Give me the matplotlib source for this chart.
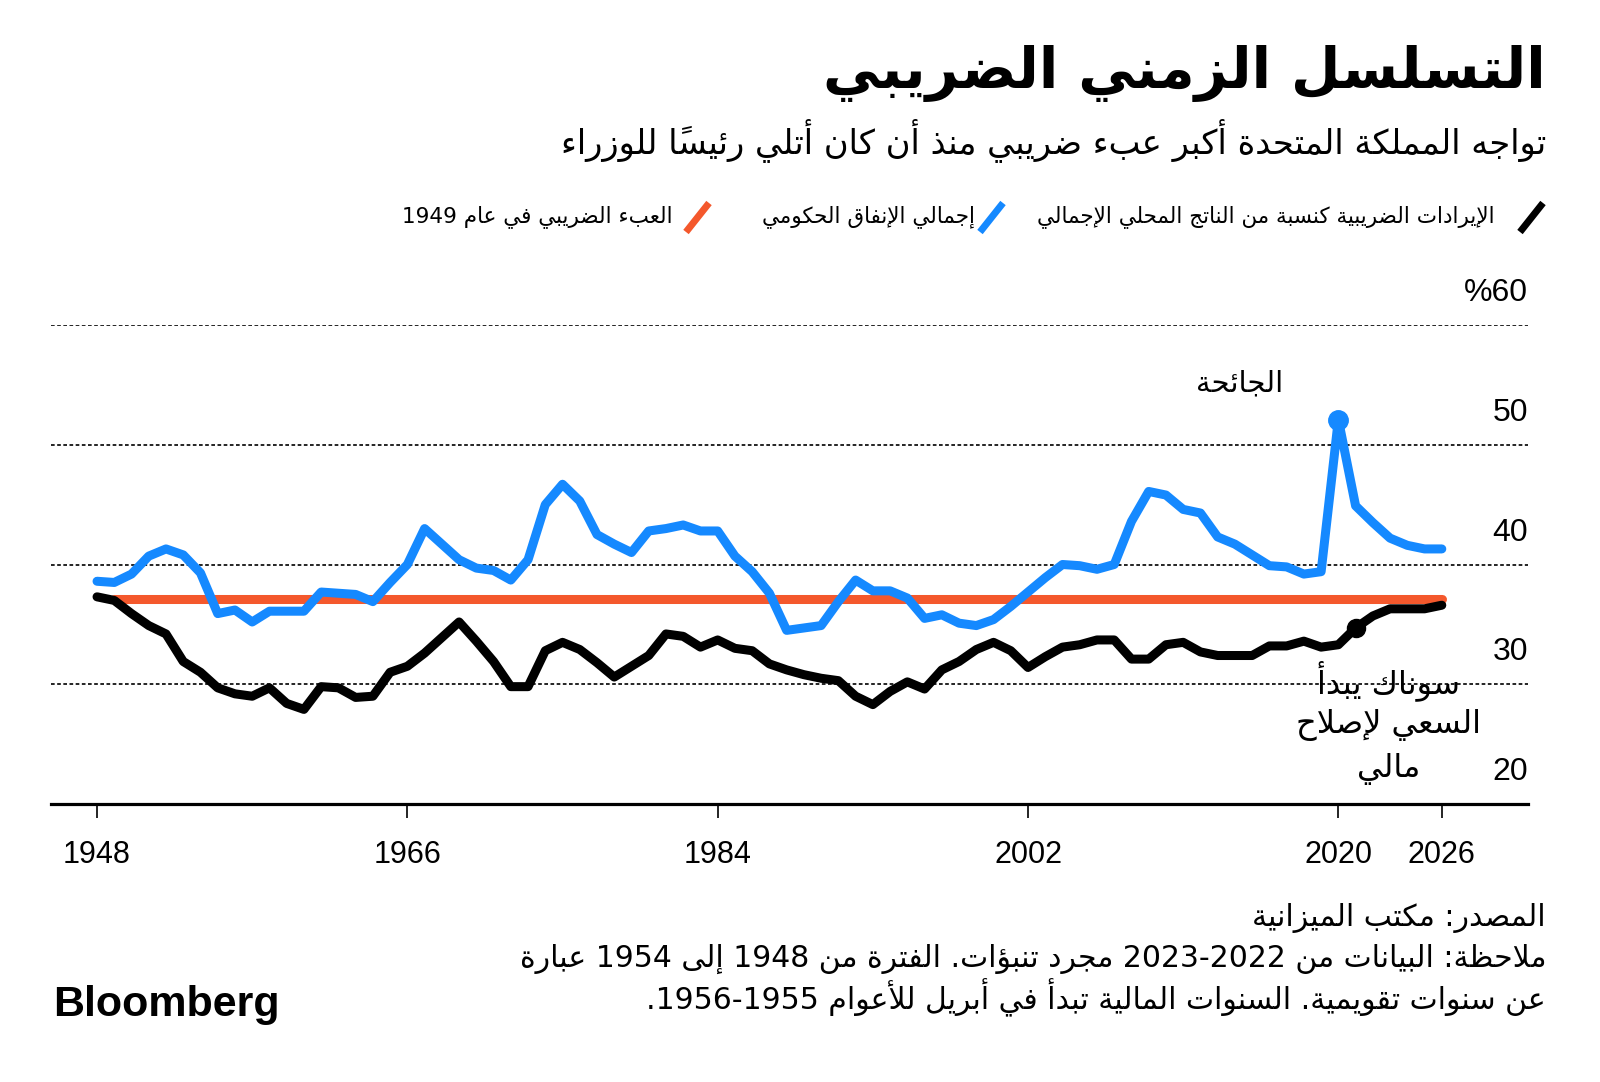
import matplotlib
matplotlib.use("Agg")
import matplotlib.pyplot as plt
from matplotlib.lines import Line2D

# UK tax receipts and total managed expenditure, % of GDP
years = list(range(1948, 2027))
tax_receipts = [
    37.3, 37.0, 35.9, 34.9, 34.2, 31.9, 31.0, 29.7, 29.2, 29.0,
    29.7, 28.4, 27.9, 29.8, 29.7, 28.9, 29.0, 31.0, 31.5, 32.6,
    33.9, 35.2, 33.6, 31.9, 29.8, 29.8, 32.8, 33.5, 32.9, 31.8,
    30.6, 31.5, 32.4, 34.2, 34.0, 33.1, 33.7, 33.0, 32.8, 31.7,
    31.2, 30.8, 30.5, 30.3, 29.0, 28.3, 29.4, 30.2, 29.6, 31.2,
    31.9, 32.9, 33.5, 32.8, 31.4, 32.3, 33.1, 33.3, 33.7, 33.7,
    32.1, 32.1, 33.3, 33.5, 32.7, 32.4, 32.4, 32.4, 33.2, 33.2,
    33.6, 33.1, 33.3, 34.7, 35.7, 36.3, 36.3, 36.3, 36.6,
]
spending = [
    38.6, 38.5, 39.2, 40.7, 41.3, 40.8, 39.3, 35.9, 36.2, 35.2,
    36.1, 36.1, 36.1, 37.7, 37.6, 37.5, 36.9, 38.5, 40.0, 43.0,
    41.7, 40.4, 39.7, 39.5, 38.7, 40.4, 45.0, 46.7, 45.3, 42.5,
    41.7, 41.0, 42.8, 43.0, 43.3, 42.8, 42.8, 40.7, 39.4, 37.6,
    34.5, 34.7, 34.9, 36.9, 38.7, 37.8, 37.8, 37.2, 35.5, 35.8,
    35.1, 34.9, 35.4, 36.5, 37.7, 38.9, 40.0, 39.9, 39.6, 40.0,
    43.6, 46.1, 45.8, 44.6, 44.3, 42.3, 41.7, 40.8, 39.9, 39.8,
    39.2, 39.4, 52.1, 44.9, 43.5, 42.2, 41.6, 41.3, 41.3,
]
burden_1949 = 37.1
burden_years = years[1:]
xticks = [1948, 1966, 1984, 2002, 2020, 2026]
yticks = [20, 30, 40, 50, 60]

title = "التسلسل الزمني الضريبي"
subtitle = "تواجه المملكة المتحدة أكبر عبء ضريبي منذ أن كان أتلي رئيساً للوزراء"
legend_labels = [
    "الإيرادات الضريبية كنسبة من الناتج المحلي الإجمالي",
    "إجمالي الإنفاق الحكومي",
    "العبء الضريبي في عام 1949",
]
pandemic_label = "الجائحة"
sunak_label = ["سوناك يبدأ", "السعي لإصلاح", "مالي"]
source = "المصدر: مكتب الميزانية"
note = [
    "ملاحظة: البيانات من 2022-2023 مجرد تنبؤات. الفترة من 1948 إلى 1954 عبارة",
    "عن سنوات تقويمية. السنوات المالية تبدأ في أبريل للأعوام 1955-1956.",
]

BLUE = "#1589FF"
ORANGE = "#F4582C"
BLACK = "#000000"

# --- minimal Arabic shaping + right-to-left ordering (no raqm in matplotlib) ---
AR_FORMS = {  # letter: (first presentation form, number of forms)
    'ء': (0xFE80, 1), 'آ': (0xFE81, 2), 'أ': (0xFE83, 2), 'ؤ': (0xFE85, 2),
    'إ': (0xFE87, 2), 'ئ': (0xFE89, 4), 'ا': (0xFE8D, 2), 'ب': (0xFE8F, 4),
    'ة': (0xFE93, 2), 'ت': (0xFE95, 4), 'ث': (0xFE99, 4), 'ج': (0xFE9D, 4),
    'ح': (0xFEA1, 4), 'خ': (0xFEA5, 4), 'د': (0xFEA9, 2), 'ذ': (0xFEAB, 2),
    'ر': (0xFEAD, 2), 'ز': (0xFEAF, 2), 'س': (0xFEB1, 4), 'ش': (0xFEB5, 4),
    'ص': (0xFEB9, 4), 'ض': (0xFEBD, 4), 'ط': (0xFEC1, 4), 'ظ': (0xFEC5, 4),
    'ع': (0xFEC9, 4), 'غ': (0xFECD, 4), 'ف': (0xFED1, 4), 'ق': (0xFED5, 4),
    'ك': (0xFED9, 4), 'ل': (0xFEDD, 4), 'م': (0xFEE1, 4), 'ن': (0xFEE5, 4),
    'ه': (0xFEE9, 4), 'و': (0xFEED, 2), 'ى': (0xFEEF, 2), 'ي': (0xFEF1, 4),
}
LAM_ALEF = {'آ': 0xFEF5, 'أ': 0xFEF7, 'إ': 0xFEF9, 'ا': 0xFEFB}


def is_mark(c):
    return '\u064B' <= c <= '\u0652'


def ar(text):
    if '\n' in text:
        return '\n'.join(ar(t) for t in text.split('\n'))
    items = []
    i = 0
    while i < len(text):
        if text[i] == 'ل' and i + 1 < len(text) and text[i + 1] in LAM_ALEF:
            items.append(('lig', text[i + 1]))
            i += 2
        else:
            items.append(('chr', text[i]))
            i += 1

    def jtype(item):
        kind, c = item
        if kind == 'lig':
            return 'R'
        if is_mark(c):
            return 'T'
        if c in AR_FORMS:
            return {1: 'U', 2: 'R', 4: 'D'}[AR_FORMS[c][1]]
        return 'U'

    types = [jtype(it) for it in items]
    shaped = []
    for k, (kind, c) in enumerate(items):
        t = types[k]
        if kind == 'chr' and c not in AR_FORMS:
            shaped.append(c)
            continue
        p = k - 1
        while p >= 0 and types[p] == 'T':
            p -= 1
        n = k + 1
        while n < len(items) and types[n] == 'T':
            n += 1
        jp = p >= 0 and types[p] == 'D' and t in 'DR'
        jn = n < len(items) and t == 'D' and types[n] in 'DR'
        if kind == 'lig':
            shaped.append(chr(LAM_ALEF[c] + int(jp)))
            continue
        base, nforms = AR_FORMS[c]
        if nforms == 1:
            off = 0
        elif nforms == 2:
            off = int(jp)
        else:
            off = [[0, 2], [1, 3]][jp][jn]
        shaped.append(chr(base + off))

    # visual order: reverse everything but digit runs, keep marks after their base
    clusters = []
    for s in shaped:
        if is_mark(s) and clusters:
            clusters[-1] += s
        elif s.isdigit() and clusters and clusters[-1][-1].isdigit():
            clusters[-1] += s
        else:
            clusters.append(s)
    return ''.join(reversed(clusters))


W, H = 1600, 1082


def fx(px):
    return px / W


def fy(py):
    return 1 - py / H


plt.rcParams['font.family'] = ['DejaVu Sans']
fig = plt.figure(figsize=(W / 100, H / 100), dpi=100)

ax = fig.add_axes([fx(51), fy(804), fx(1528) - fx(51), fy(325) - fy(804)])
ax.set_xlim(1945.33, 2031.0)
ax.set_ylim(20, 60)

for v in yticks[1:]:
    ax.axhline(v, color=BLACK, lw=1.2, linestyle=(0, (2.2, 1.5)), zorder=1)
for v in yticks:
    label = ar(f"{v}%") if v == 60 else str(v)
    ax.annotate(label, xy=(1.0, v), xycoords=ax.get_yaxis_transform(),
                xytext=(0, 23), textcoords='offset points', ha='right', va='center',
                fontsize=23, family='Liberation Sans')

for s in ['top', 'left', 'right']:
    ax.spines[s].set_visible(False)
ax.spines['bottom'].set_linewidth(2.3)
ax.set_yticks([])
ax.set_xticks(xticks)
ax.set_xticklabels([str(x) for x in xticks], family='Liberation Sans')
ax.tick_params(axis='x', length=10, width=1.2, pad=16, labelsize=22)

line_kw = dict(lw=6.5, solid_capstyle='round', solid_joinstyle='round')
ax.plot(burden_years, [burden_1949] * len(burden_years), color=ORANGE, zorder=2, **line_kw)
ax.plot(years, spending, color=BLUE, zorder=3, **line_kw)
ax.plot(years, tax_receipts, color=BLACK, zorder=4, **line_kw)
ax.plot(2020, spending[years.index(2020)], 'o', color=BLUE, ms=14, zorder=5)
ax.plot(2021, tax_receipts[years.index(2021)], 'o', color=BLACK, ms=13, zorder=5)

ax.text(2014.3, 55.1, ar(pandemic_label), ha='center', va='center', fontsize=21)
for i, line in enumerate(sunak_label):
    ax.text(2022.9, 30.3 - i * 3.7, ar(line), ha='center', va='center', fontsize=23)

# header
fig.text(fx(1546), fy(73), ar(title), ha='right', va='center', fontsize=41, fontweight='bold')
fig.text(fx(1546), fy(140), ar(subtitle), ha='right', va='center', fontsize=24.3)

# legend: coloured slashes with labels to their left
legend_items = [(BLACK, 1520, 1495), (BLUE, 980, 975), (ORANGE, 686, 673)]
for (color, sx, tx), label in zip(legend_items, legend_labels):
    fig.add_artist(Line2D([fx(sx), fx(sx + 23)], [fy(232), fy(203)], color=color,
                          lw=5, solid_capstyle='butt'))
    fig.text(fx(tx), fy(217), ar(label), ha='right', va='center', fontsize=15.5)

# footer
fig.text(fx(1546), fy(918), ar(source), ha='right', va='center', fontsize=21.5)
for i, line in enumerate(note):
    fig.text(fx(1546), fy(959 + i * 39), ar(line), ha='right', va='center', fontsize=21.5)
fig.text(fx(53), fy(1005), "Bloomberg", ha='left', va='center', fontsize=31,
         fontweight='bold', family='Liberation Sans')

fig.savefig("out.png", dpi=100)
